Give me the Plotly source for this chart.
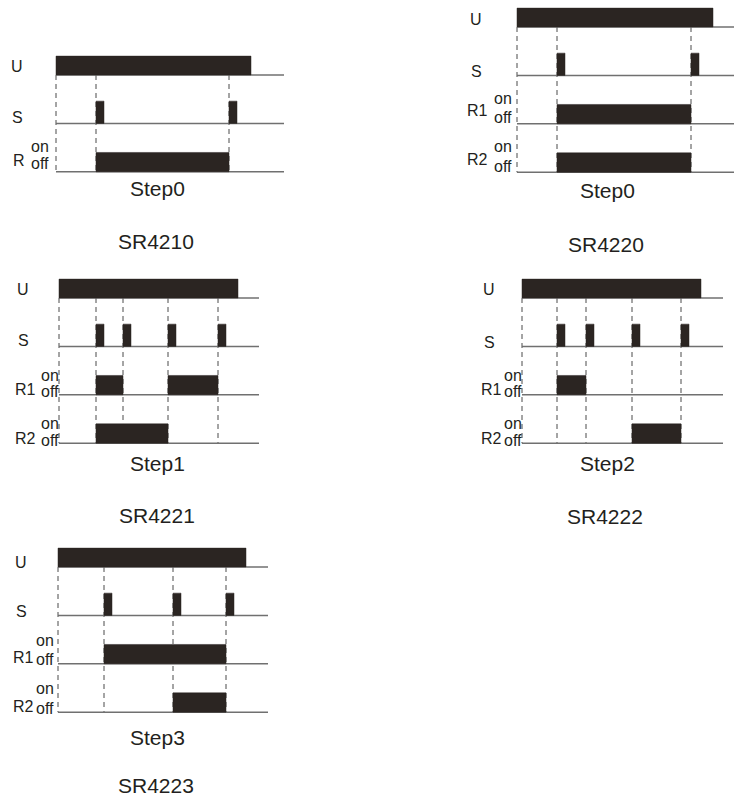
import plotly.graph_objects as go

W, H = 734, 799

# ---------------- data (time units) ----------------
diagram_names = ["SR4210", "SR4220", "SR4221", "SR4222", "SR4223"]
step_names = ["Step0", "Step0", "Step1", "Step2", "Step3"]
relay_labels = [["R"], ["R1", "R2"], ["R1", "R2"], ["R1", "R2"], ["R1", "R2"]]
u_off_time = [19.5, 19.6, 17.9, 17.9, 18.8]
time_end = [22.8, 21.7, 20.0, 20.1, 21.0]
s_pulse_times = [[4.0, 17.3], [4.0, 17.4], [3.7, 6.4, 10.9, 15.9],
                 [3.5, 6.4, 11.0, 15.9], [4.6, 11.5, 16.8]]
s_pulse_len = 0.8
r1_on = [[[4.0, 17.3]], [[4.0, 17.4]], [[3.7, 6.4], [10.9, 15.9]],
         [[3.5, 6.4]], [[4.6, 16.8]]]
r2_on = [[], [[4.0, 17.4]], [[3.7, 10.9]], [[11.0, 15.9]], [[11.5, 16.8]]]
level_labels = ["on", "off"]

# ---------------- layout geometry (pixels) ----------------
origin_px = [(56, 75), (517, 27), (59, 298), (522, 298), (58, 567)]
PX_PER_T = 10.0
ROW_PX = 48.4
U_H, S_H, R_H = 0.39, 0.46, 0.40

row_lab_dx = [-39, -41, -36, -33, -37]
lvl_lab_dx = [-16, -14, -9, -9, -13]
u_lab_dy = [-8, -7, -9, -9, -5]
s_lab_dy = [-6, -4, -6, -4, -4]
r_lab_dy = [-11, -13, -5, -5, -6]
on_lab_dy = [-24, -24, -18, -18, -22]
off_lab_dy = [-8, -6, -3, -3, -4]
step_pos = [(157, 188), (607, 190), (157, 463), (607, 463), (157, 737)]
name_pos = [(156, 242), (606, 244), (157, 515), (605, 516), (156, 785)]

BAR = "#2b2522"
LINE = "#707070"
DASH = "#4a4a4a"
TXT = "#231f20"
FONT = "Liberation Sans, Arial, sans-serif"

fig = go.Figure()
layout = {}
annotations = []


def rect(a, b, y0, h):
    return [a, a, b, b, a], [y0, y0 + h, y0 + h, y0, y0]


for i in range(5):
    x0, yU = origin_px[i]
    nrows = 2 + len(relay_labels[i])
    xs = "x" if i == 0 else f"x{i+1}"
    ys = "y" if i == 0 else f"y{i+1}"
    xk = "xaxis" if i == 0 else f"xaxis{i+1}"
    yk = "yaxis" if i == 0 else f"yaxis{i+1}"

    # axis ranges / domains
    left_px = x0 - 10
    right_px = min(W, x0 + PX_PER_T * (time_end[i] + 1))
    xr = [(left_px - x0) / PX_PER_T, (right_px - x0) / PX_PER_T]
    top_px = max(0, yU - 0.7 * ROW_PX)
    bot_px = min(H, yU + (nrows - 1 + 0.3) * ROW_PX)
    yr = [-(bot_px - yU) / ROW_PX, (yU - top_px) / ROW_PX]
    layout[xk] = dict(domain=[left_px / W, right_px / W], range=xr, visible=False,
                      fixedrange=True, anchor=ys)
    layout[yk] = dict(domain=[1 - bot_px / H, 1 - top_px / H], range=yr, visible=False,
                      fixedrange=True, anchor=xs)

    last = -(nrows - 1)
    # dashed event lines
    for t in [0.0] + s_pulse_times[i]:
        fig.add_trace(go.Scatter(x=[t, t], y=[0, last], mode="lines", xaxis=xs, yaxis=ys,
                                 line=dict(color=DASH, width=1, dash="5px,4px"),
                                 hoverinfo="skip", showlegend=False))
    # baselines
    for r in range(nrows):
        fig.add_trace(go.Scatter(x=[0, time_end[i]], y=[-r, -r], mode="lines",
                                 xaxis=xs, yaxis=ys, line=dict(color=LINE, width=1.5),
                                 hoverinfo="skip", showlegend=False))
    # U
    bx, by = rect(0, u_off_time[i], 0, U_H)
    fig.add_trace(go.Scatter(x=bx, y=by, fill="toself", fillcolor=BAR, mode="lines",
                             line=dict(color=BAR, width=0.5), xaxis=xs, yaxis=ys,
                             hoverinfo="skip", showlegend=False))
    # S pulses
    for t in s_pulse_times[i]:
        bx, by = rect(t, t + s_pulse_len, -1, S_H)
        fig.add_trace(go.Scatter(x=bx, y=by, fill="toself", fillcolor=BAR, mode="lines",
                                 line=dict(color=BAR, width=0.5), xaxis=xs, yaxis=ys,
                                 hoverinfo="skip", showlegend=False))
    # relays
    for k, ivals in enumerate([r1_on[i], r2_on[i]][:len(relay_labels[i])]):
        for a, b in ivals:
            bx, by = rect(a, b, -(2 + k), R_H)
            fig.add_trace(go.Scatter(x=bx, y=by, fill="toself", fillcolor=BAR, mode="lines",
                                     line=dict(color=BAR, width=0.5), xaxis=xs, yaxis=ys,
                                     hoverinfo="skip", showlegend=False))

    # text labels
    def ann(text, px, py, size):
        annotations.append(dict(text=text, x=px / W, y=1 - py / H, xref="paper", yref="paper",
                                showarrow=False, xanchor="center", yanchor="middle",
                                borderpad=0,
                                font=dict(family=FONT, size=size, color=TXT)))

    ann("U", x0 + row_lab_dx[i], yU + u_lab_dy[i], 16)
    ann("S", x0 + row_lab_dx[i], yU + ROW_PX + s_lab_dy[i], 16)
    for k, lab in enumerate(relay_labels[i]):
        base = yU + (2 + k) * ROW_PX
        ann(lab, x0 + row_lab_dx[i] + 2, base + r_lab_dy[i], 16)
        ann(level_labels[0], x0 + lvl_lab_dx[i], base + on_lab_dy[i] - 1.5, 16)
        ann(level_labels[1], x0 + lvl_lab_dx[i], base + off_lab_dy[i], 16)

    ann(step_names[i], step_pos[i][0], step_pos[i][1], 21)
    ann(diagram_names[i], name_pos[i][0], name_pos[i][1], 21)

fig.update_layout(width=W, height=H, margin=dict(l=0, r=0, t=0, b=0),
                  paper_bgcolor="white", plot_bgcolor="rgba(0,0,0,0)",
                  showlegend=False, annotations=annotations, **layout)
fig.write_html("out.html", config={"displayModeBar": False},
               post_script="document.body.style.margin='0';document.body.style.overflow='hidden';")
